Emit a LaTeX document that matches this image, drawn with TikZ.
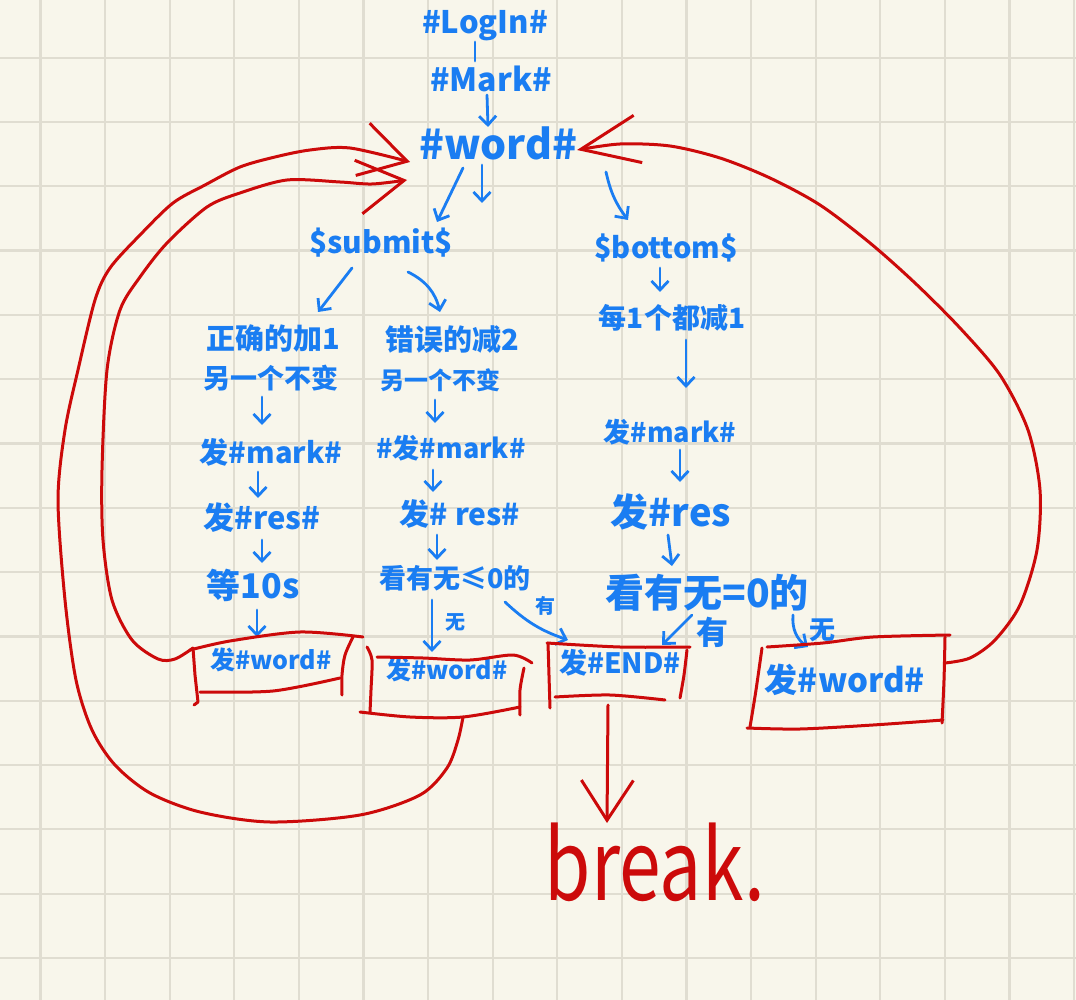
\documentclass[tikz,border=0pt]{standalone}
\usepackage{graphicx}
\usepackage{fontspec}
\setmainfont{Noto Sans CJK SC}
\usetikzlibrary{arrows.meta,calc}
\definecolor{bgc}{HTML}{F8F6EB}
\definecolor{gridc}{HTML}{E0DDD1}
\definecolor{inkb}{HTML}{1A7DF2}
\definecolor{inkr}{HTML}{CC0A0A}
\newcommand\myfs[1]{\fontsize{#1}{#1}\selectfont}
\begin{document}
\begin{tikzpicture}[x=1pt,y=-1pt,
 txt/.style={text=inkb, inner sep=0pt, anchor=center},
 barrow/.style={draw=inkb, line width=2.8pt, line cap=round, line join=round, -{Straight Barb[length=9pt,width=17pt]}},
 bline/.style={draw=inkb, line width=2.8pt, line cap=round},
 rline/.style={draw=inkr, line width=3pt, line cap=round, line join=round},
 rloopL/.style={rline, -{Straight Barb[length=46pt,width=54pt]}},
 rloopR/.style={rline, -{Straight Barb[length=58pt,width=48pt]}},
 rarrow/.style={rline, -{Straight Barb[length=40pt,width=52pt]}}]
\useasboundingbox (0,0) rectangle (1076,1000);
\fill[bgc] (0,0) rectangle (1076,1000);
\foreach \i in {0,...,16} \draw[gridc, line width=2.2pt] ({40.4+64.6*\i},0) -- ++(0,1000);
\foreach \j in {0,...,14} \draw[gridc, line width=2.2pt] (0,{57.7+64.3*\j}) -- ++(1076,0);

% ---- blue text nodes
\node[txt, font=\myfs{31}\bfseries] (login) at (485,26) {\#LogIn\#};
\node[txt, font=\myfs{32}\bfseries] (mark) at (491,79) {\#Mark\#};
\node[txt, font=\myfs{41}\bfseries] (word) at (498,143) {\#word\#};
\node[txt, font=\myfs{30}\bfseries] (submit) at (381,243) {\$submit\$};
\node[txt, font=\myfs{29}\bfseries] (bottom) at (666,248) {\$bottom\$};
\node[txt, font=\myfs{29}\bfseries] (zq1) at (273,338) {正确的加1};
\node[txt, font=\myfs{27}\bfseries] (zq2) at (271,378) {另一个不变};
\node[txt, font=\myfs{29}\bfseries] (cw1) at (452,340) {错误的减2};
\node[txt, font=\myfs{24}\bfseries] (cw2) at (440,380) {另一个不变};
\node[txt, font=\myfs{28}\bfseries] (mei) at (672,318) {每1个都减1};
\node[txt, font=\myfs{29}\bfseries] (m1) at (271,452) {发\#mark\#};
\node[txt, font=\myfs{27}\bfseries] (m2) at (451,448) {\#发\#mark\#};
\node[txt, font=\myfs{27}\bfseries] (m3) at (670,432) {发\#mark\#};
\node[txt, font=\myfs{31}\bfseries] (r1) at (262,518) {发\#res\#};
\node[txt, font=\myfs{30}\bfseries] (r2) at (460,514) {发\# res\#};
\node[txt, font=\myfs{38}\bfseries] (r3) at (671,512) {发\#res};
\node[txt, font=\myfs{34}\bfseries] (w10) at (253,585) {等10s};
\node[txt, font=\myfs{27}\bfseries] (k2) at (455,578) {看有无≤0的};
\node[txt, font=\myfs{39}\bfseries] (k3) at (707,593) {看有无=0的};
% box texts
\node[txt, font=\myfs{25}\bfseries] (b1) at (271,660) {发\#word\#};
\node[txt, font=\myfs{25}\bfseries] (b2) at (447,670) {发\#word\#};
\node[txt, font=\myfs{28}\bfseries] (b3) at (620,663) {发\#END\#};
\node[txt, font=\myfs{33}\bfseries] (b4) at (845,680) {发\#word\#};
% labels
\node[txt, font=\myfs{20}\bfseries] (l1) at (455,622) {无};
\node[txt, font=\myfs{20}\bfseries] (l2) at (545,606) {有};
\node[txt, font=\myfs{32}\bfseries] (l3) at (712,632) {有};
\node[txt, font=\myfs{26}\bfseries] (l4) at (822,630) {无};
% break
\node[text=inkr, inner sep=0pt, font=\myfs{75}] (brk) at (655,862) {\scalebox{1}[1.3]{break.}};
\coordinate (dn) at (482,203);

% ---- blue connectors
\draw[bline] ($(login)+(-10,16)$) -- ($(mark)+(-16,-18)$);
\draw[barrow] ($(mark)+(-4,16)$) -- ($(word)+(-10,-16)$);
\draw[barrow] ($(word)+(-35,25)$) -- ($(submit)+(56,-21)$);
\draw[barrow] ($(word)+(-16,22)$) -- (dn);
\draw[barrow] ($(word)+(108,29)$) to[bend right=12] ($(bottom)+(-38,-28)$);
\draw[barrow] ($(submit)+(-29,25)$) -- ($(zq1)+(45,-26)$);
\draw[barrow] ($(submit)+(27,29)$) to[bend left=25] ($(cw1)+(-12,-28)$);
\draw[barrow] ($(bottom)+(-6,20)$) -- ($(mei)+(-12,-26)$);
\draw[barrow] ($(mei)+(14,22)$) -- ($(m3)+(16,-44)$);
\draw[barrow] ($(zq2)+(-9,19)$) -- ($(m1)+(-9,-27)$);
\draw[barrow] ($(m1)+(-13,20)$) -- ($(r1)+(-4,-20)$);
\draw[barrow] ($(r1)+(0,22)$) -- ($(w10)+(9,-22)$);
\draw[barrow] ($(w10)+(4,25)$) -- ($(b1)+(-14,-23)$);
\draw[barrow] ($(cw2)+(-5,20)$) -- ($(m2)+(-16,-25)$);
\draw[barrow] ($(m2)+(-18,22)$) -- ($(r2)+(-27,-22)$);
\draw[barrow] ($(r2)+(-23,21)$) -- ($(k2)+(-18,-18)$);
\draw[barrow] ($(k2)+(-23,22)$) -- ($(b2)+(-15,-18)$);
\draw[barrow] ($(k2)+(50,24)$) to[bend right=12] ($(b3)+(-52,-23)$);
\draw[barrow] ($(m3)+(10,18)$) -- ($(r3)+(9,-30)$);
\draw[barrow] ($(r3)+(-3,23)$) -- ($(k3)+(-35,-27)$);
\draw[barrow] ($(k3)+(-15,22)$) -- ($(b3)+(42,-18)$);
\draw[barrow] ($(k3)+(86,22)$) to[bend right=30] ($(b4)+(-37,-33)$);

% ---- red boxes
\draw[rline] plot[smooth] coordinates {(190,650) (230,641) (300,632) (363,637)};
\draw[rline] (193,648) -- (195,675) -- (198,702) -- (194,705);
\draw[rline] plot[smooth] coordinates {(200,692) (273,691) (340,678)};
\draw[rline] plot[smooth] coordinates {(353,637) (345,655) (342,675) (342,695)};

\draw[rline] plot[smooth] coordinates {(367,647) (372,660) (371,690) (370,712)};
\draw[rline] plot[smooth] coordinates {(377,657) (423,658) (470,660) (513,655) (532,663)};
\draw[rline] plot[smooth] coordinates {(524,668) (520,690) (520,715)};
\draw[rline] plot[smooth] coordinates {(360,712) (410,717) (463,717) (520,707)};

\draw[rline] (548,643) -- (550,708);
\draw[rline] plot[smooth] coordinates {(547,643) (620,647) (690,647)};
\draw[rline] plot[smooth] coordinates {(687,650) (684,675) (680,698)};
\draw[rline] plot[smooth] coordinates {(555,697) (610,695) (665,700)};

\draw[rline] plot[smooth] coordinates {(762,648) (756,690) (750,727)};
\draw[rline] plot[smooth] coordinates {(767,647) (823,643) (873,637) (950,635)};
\draw[rline] plot[smooth] coordinates {(945,637) (944,680) (942,723)};
\draw[rline] plot[smooth] coordinates {(747,728) (800,729) (873,725) (943,720)};

% ---- red connectors
\draw[rarrow] ($(b3)+(-12,42)$) -- ($(brk)+(-48,-39)$);
\draw[rloopL] plot[smooth] coordinates {($(b1)+(-78,-12)$) (175,659) (158,659) (132,640) (112,600) (103,540) (102,470) (107,370) (120,310) (140,277) (167,243) (207,207) (240,193) (287,180) (340,182) (372,184) ($(word)+(-91,37)$)};
\draw[rloopL] plot[smooth] coordinates {($(b2)+(16,47)$) (458,740) (447,768) (420,795) (360,815) (270,822) (200,812) (150,793) (115,765) (92,730) (76,680) (65,600) (58,500) (65,430) (78,370) (95,300) (110,268) (140,235) (173,203) (205,185) (240,167) (275,157) (310,150) (350,148) ($(word)+(-88,19)$)};
\draw[rloopR] plot[smooth] coordinates {($(b4)+(100,-17)$) (970,658) (995,640) (1020,605) (1037,550) (1040,490) (1028,430) (1000,375) (960,328) (915,283) (870,243) (820,205) (770,178) (720,158) (670,146) (620,144) ($(word)+(79,7)$)};
\end{tikzpicture}
\end{document}
